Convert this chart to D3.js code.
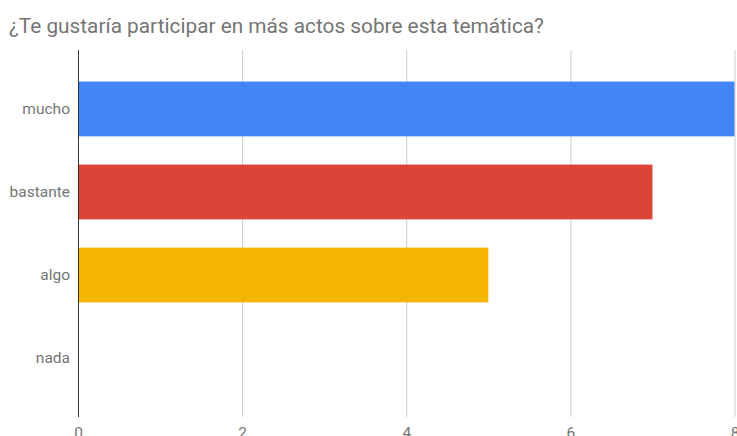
<!DOCTYPE html>
<html>
<head>
<meta charset="utf-8">
<script src="https://cdn.jsdelivr.net/npm/d3@7"></script>
<style>
  body { margin: 0; background: #fff; }
  svg { display: block; font-family: Roboto, Arial, sans-serif; }
</style>
</head>
<body>
<div id="chart"></div>
<script>
// chart data
var categories = ["mucho", "bastante", "algo", "nada"];
var values = [8, 7, 5, 0];
var colors = ["#4285f4", "#db4437", "#f4b400", "#0f9d58"];
var xTicks = [0, 2, 4, 6, 8];
var title = "¿Te gustaría participar en más actos sobre esta temática?";

var width = 737, height = 436;
var plotLeft = 78, plotRight = 734.5, plotTop = 50, plotBottom = 417;

var svg = d3.select("#chart").append("svg")
    .attr("width", width)
    .attr("height", height);

var x = d3.scaleLinear().domain([0, 8]).range([plotLeft, plotRight]);
var y = d3.scaleBand()
    .domain(categories)
    .range([plotTop, plotBottom])
    .paddingInner(0.34)
    .paddingOuter(0.38);

// title
svg.append("text")
    .attr("x", 9)
    .attr("y", 33)
    .attr("fill", "#757575")
    .attr("font-size", 20.8)
    .text(title);

// vertical gridlines
svg.append("g").selectAll("line")
    .data(xTicks.filter(function(d) { return d > 0; }))
    .enter().append("line")
    .attr("x1", function(d) { return x(d) + 0.5; })
    .attr("x2", function(d) { return x(d) + 0.5; })
    .attr("y1", plotTop)
    .attr("y2", plotBottom)
    .attr("stroke", "#cccccc");

// bars
svg.append("g").selectAll("rect")
    .data(values)
    .enter().append("rect")
    .attr("x", x(0))
    .attr("y", function(d, i) { return y(categories[i]); })
    .attr("width", function(d) { return x(d) - x(0); })
    .attr("height", y.bandwidth())
    .attr("fill", function(d, i) { return colors[i]; });

// baseline at zero
svg.append("line")
    .attr("x1", x(0) + 0.5)
    .attr("x2", x(0) + 0.5)
    .attr("y1", plotTop)
    .attr("y2", plotBottom)
    .attr("stroke", "#333333");

// category labels
var yAxis = d3.axisLeft(y).tickSize(0).tickPadding(8);
var gy = svg.append("g")
    .attr("transform", "translate(" + plotLeft + ",0)")
    .call(yAxis);
gy.select(".domain").remove();
gy.selectAll("text")
    .attr("fill", "#757575")
    .attr("font-size", 15.5)
    .attr("font-family", "Roboto, Arial, sans-serif");

// x tick labels
var xAxis = d3.axisBottom(x).tickValues(xTicks).tickSize(0).tickPadding(10);
var gx = svg.append("g")
    .attr("transform", "translate(0," + plotBottom + ")")
    .call(xAxis);
gx.select(".domain").remove();
gx.selectAll("text")
    .attr("fill", "#757575")
    .attr("font-size", 15.5)
    .attr("font-family", "Roboto, Arial, sans-serif");
</script>
</body>
</html>
